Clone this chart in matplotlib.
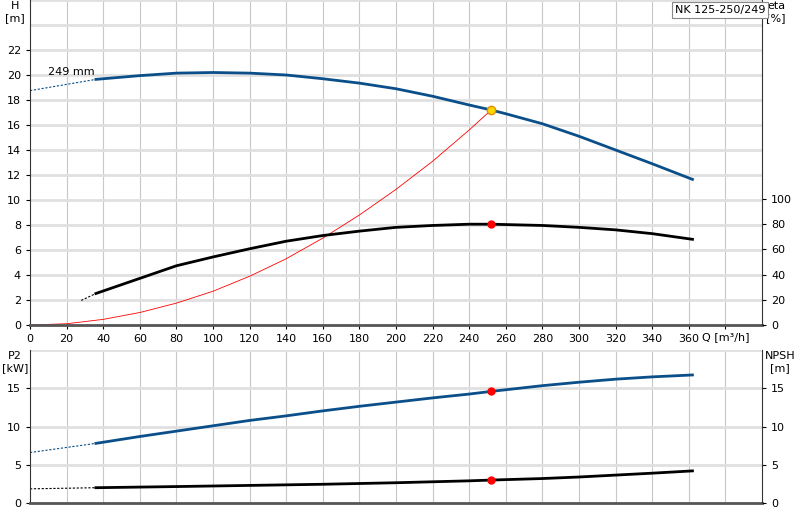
import matplotlib
matplotlib.use("Agg")
import matplotlib.pyplot as plt

# ── Data ─────────────────────────────────────────────────────────────────────
q_h = [36, 60, 80, 100, 120, 140, 160, 180, 200, 220, 240, 252, 260, 280, 300, 320, 340, 362]
h = [19.65, 19.95, 20.15, 20.2, 20.15, 20.0, 19.7, 19.35, 18.9, 18.3, 17.6, 17.2, 16.9, 16.1, 15.1, 14.0, 12.9, 11.65]
q_h_ext = [0, 36]
h_ext = [18.75, 19.65]

q_eta = [36, 40, 60, 80, 100, 120, 140, 160, 180, 200, 220, 240, 252, 280, 300, 320, 340, 362]
eta = [25, 27, 37, 47, 54, 60.5, 66.5, 71, 74.5, 77.5, 79, 80, 80, 79, 77.5, 75.5, 72.5, 68]
q_eta_ext = [28, 36]
eta_ext = [19.5, 25]

q_sys = [0, 20, 40, 60, 80, 100, 120, 140, 160, 180, 200, 220, 240, 252]
h_sys = [0, 0.1, 0.45, 1.0, 1.75, 2.7, 3.9, 5.3, 6.95, 8.8, 10.85, 13.1, 15.6, 17.2]

q_p2 = [36, 60, 80, 100, 120, 140, 160, 180, 200, 220, 240, 252, 280, 300, 320, 340, 362]
p2 = [7.8, 8.7, 9.4, 10.1, 10.8, 11.4, 12.05, 12.65, 13.2, 13.75, 14.25, 14.6, 15.35, 15.8, 16.2, 16.5, 16.75]
p2_ext = [6.6, 7.8]

q_npsh = [36, 80, 120, 160, 200, 240, 252, 280, 300, 320, 340, 362]
npsh = [2.0, 2.15, 2.3, 2.45, 2.65, 2.9, 3.0, 3.2, 3.4, 3.65, 3.9, 4.2]
npsh_ext = [1.85, 2.0]

duty_q = 252
duty_h, duty_eta, duty_p2, duty_npsh = 17.2, 80, 14.6, 3.0

BLUE = "#0b4f8a"
GRID = "#c8c8c8"
HGRID = "#e0e0e0"
ETA_SCALE = 100 / 10.08

fig = plt.figure(figsize=(8, 5.2), dpi=100)
ax = fig.add_axes([0.0375, 0.375, 0.915, 0.625])
ax2 = fig.add_axes([0.0375, 0.0327, 0.915, 0.294])


def style(a, ymax, yticks, ystep):
    a.set_xlim(0, 400)
    a.set_ylim(0, ymax)
    a.set_xticks(range(0, 400, 20))
    for x in range(20, 400, 20):
        a.axvline(x, color=GRID, lw=0.8, zorder=0)
    for y in range(ystep, int(ymax) + 1, ystep):
        a.axhline(y, color=HGRID, lw=2, zorder=0)
    a.set_yticks(yticks)
    a.tick_params(labelsize=8, length=3)
    for s in ["top", "right"]:
        a.spines[s].set_visible(False)
    a.spines["left"].set_color("#333333")
    a.spines["bottom"].set_color("#555555")
    a.spines["bottom"].set_linewidth(2)


# ── Top panel ────────────────────────────────────────────────────────────────
style(ax, 26, range(0, 23, 2), 2)
ax.set_xticklabels([str(v) if v <= 360 else "" for v in range(0, 400, 20)])
ax.plot(q_h_ext, h_ext, color=BLUE, lw=0.8, ls=(0, (2, 1.5)))
ax.plot(q_h, h, color=BLUE, lw=2)
ax.plot(q_sys, h_sys, color="red", lw=0.6)
ax.plot(duty_q, duty_h, "o", ms=6, mfc="#ffd700", mec="#e09000", zorder=5)
ax.text(10, 20.0, "249 mm", fontsize=8)
fig.text(0.019, 0.998, "H\n[m]", fontsize=8, ha="center", va="top", linespacing=1.3)
ax.text(380, -0.6, "Q [m³/h]", fontsize=8, ha="center", va="top")

axe = ax.twinx()
axe.set_ylim(0, 26 * ETA_SCALE)
axe.set_yticks(range(0, 101, 20))
axe.tick_params(labelsize=8, length=3)
for s in ["top", "left"]:
    axe.spines[s].set_visible(False)
axe.spines["bottom"].set_visible(False)
axe.spines["right"].set_color("#333333")
axe.plot(q_eta_ext, eta_ext, color="black", lw=0.8, ls=(0, (2, 1.5)))
axe.plot(q_eta, eta, color="black", lw=2)
axe.plot(duty_q, duty_eta, "o", ms=5, color="red", zorder=5)
fig.text(0.97, 0.998, "eta\n[%]", fontsize=8, ha="center", va="top", linespacing=1.3)
fig.text(0.9, 0.99, "NK 125-250/249", fontsize=8, ha="center", va="top",
         bbox=dict(fc="white", ec="#888888", lw=0.8, pad=2))

# ── Bottom panel ─────────────────────────────────────────────────────────────
style(ax2, 20, range(0, 16, 5), 5)
ax2.set_xticklabels([])
ax2.tick_params(axis="x", length=0)
ax2.plot(q_h_ext, p2_ext, color=BLUE, lw=0.8, ls=(0, (2, 1.5)))
ax2.plot(q_p2, p2, color=BLUE, lw=2)
ax2.plot(duty_q, duty_p2, "o", ms=5, color="red", zorder=5)
ax2.plot(q_h_ext, npsh_ext, color="black", lw=0.8, ls=(0, (2, 1.5)))
ax2.plot(q_npsh, npsh, color="black", lw=2)
ax2.plot(duty_q, duty_npsh, "o", ms=5, color="red", zorder=5)
fig.text(0.019, 0.325, "P2\n[kW]", fontsize=8, ha="center", va="top", linespacing=1.3)
fig.text(0.975, 0.325, "NPSH\n[m]", fontsize=8, ha="center", va="top", linespacing=1.3)

axn = ax2.twinx()
axn.set_ylim(0, 20)
axn.set_yticks(range(0, 16, 5))
axn.tick_params(labelsize=8, length=3)
for s in ["top", "left", "bottom"]:
    axn.spines[s].set_visible(False)
axn.spines["right"].set_color("#333333")

fig.savefig("out.png", dpi=100)
